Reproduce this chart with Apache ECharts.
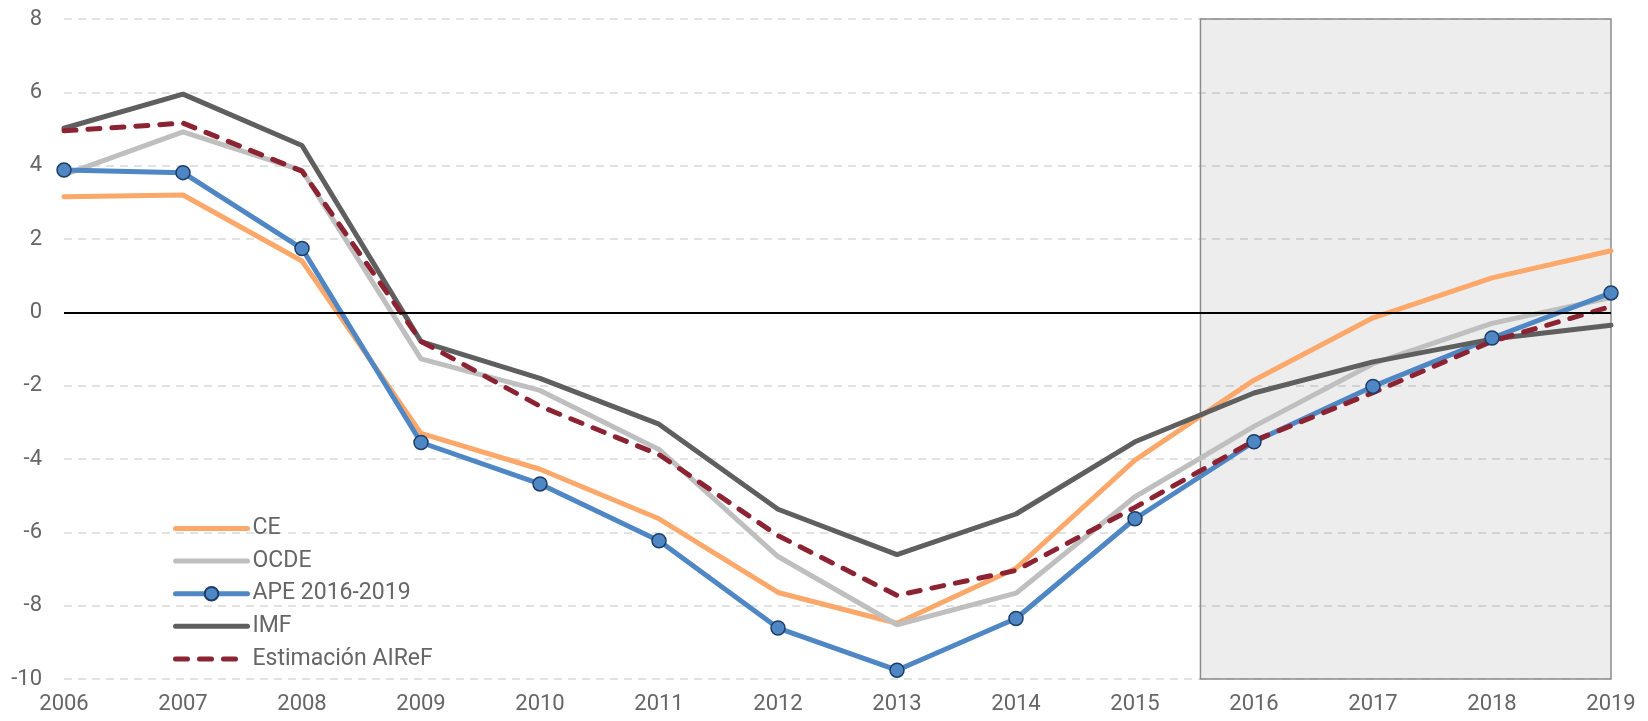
<!DOCTYPE html>
<html>
<head>
<meta charset="utf-8">
<script src="https://cdn.jsdelivr.net/npm/echarts@6/dist/echarts.min.js"></script>
<style>
  html, body { margin: 0; padding: 0; background: #fff; }
  #chart { width: 1648px; height: 721px; }
</style>
</head>
<body>
<div id="chart"></div>
<script>
// years on the x axis
var years = [2006, 2007, 2008, 2009, 2010, 2011, 2012, 2013, 2014, 2015, 2016, 2017, 2018, 2019];

// forecast values
var ce     = [3.15, 3.2, 1.4, -3.3, -4.28, -5.63, -7.64, -8.48, -6.98, -4.03, -1.85, -0.15, 0.94, 1.68];
var ocde   = [3.75, 4.92, 3.87, -1.27, -2.13, -3.74, -6.66, -8.52, -7.66, -5.03, -3.11, -1.4, -0.3, 0.4];
var ape    = [3.88, 3.81, 1.74, -3.55, -4.68, -6.23, -8.61, -9.76, -8.35, -5.63, -3.53, -2.02, -0.7, 0.53];
var imf    = [5.02, 5.95, 4.55, -0.8, -1.8, -3.05, -5.37, -6.61, -5.5, -3.53, -2.2, -1.35, -0.73, -0.35];
var airef  = [4.95, 5.16, 3.85, -0.79, -2.56, -3.88, -6.09, -7.72, -7.04, -5.32, -3.5, -2.19, -0.79, 0.16];

// shaded projection window
var shadeFrom = 2015.55, shadeTo = 2019.12;

var yTicks = { min: -10, max: 8, step: 2 };

function pairs(vals) {
  return years.map(function (y, i) { return [y, vals[i]]; });
}

var chart = echarts.init(document.getElementById('chart'));
var font = 'Roboto, "Liberation Sans", sans-serif';
var txtColor = '#666666';
var noDot = { color: 'rgba(0,0,0,0)', borderWidth: 0, opacity: 0 };

var option = {
  animation: false,
  backgroundColor: '#fff',
  grid: { left: 64, right: 37, top: 19, bottom: 42 },
  xAxis: {
    type: 'value',
    min: 2006, max: 2019, interval: 1,
    axisLine: { show: false },
    axisTick: { show: false },
    splitLine: { show: false },
    axisLabel: {
      color: txtColor, fontSize: 22, fontFamily: font, margin: 14,
      formatter: function (v) { return String(v); }
    }
  },
  yAxis: {
    type: 'value',
    min: yTicks.min, max: yTicks.max, interval: yTicks.step,
    axisLine: { show: false },
    axisTick: { show: false },
    axisLabel: { color: txtColor, fontSize: 22, fontFamily: font, margin: 22 },
    splitLine: { lineStyle: { color: '#d9d9d9', width: 1.5, type: [8, 6] } }
  },
  legend: {
    orient: 'vertical',
    left: 168, top: 512,
    itemWidth: 72, itemHeight: 17, itemGap: 9.6,
    lineStyle: { width: 5 },
    textStyle: { color: txtColor, fontSize: 23, fontFamily: font, lineHeight: 23 },
    data: [
      { name: 'CE', itemStyle: noDot },
      { name: 'OCDE', itemStyle: noDot },
      { name: 'APE 2016-2019' },
      { name: 'IMF', itemStyle: noDot },
      { name: 'Estimación AIReF', itemStyle: noDot }
    ]
  },
  series: [
    {
      name: 'bg', type: 'line', data: [], silent: true,
      markArea: {
        silent: true,
        itemStyle: {
          color: 'rgba(0,0,0,0.07)', borderColor: '#8c8c8c', borderWidth: 1.5
        },
        data: [[{ xAxis: shadeFrom, yAxis: yTicks.max }, { xAxis: shadeTo, yAxis: yTicks.min }]]
      },
      markLine: {
        silent: true, symbol: ['none', 'none'], label: { show: false },
        lineStyle: { color: '#000', width: 2, type: 'solid' },
        data: [{ yAxis: 0 }]
      }
    },
    {
      name: 'CE', type: 'line', data: pairs(ce), symbol: 'none',
      itemStyle: { color: '#FDA86B' },
      lineStyle: { color: '#FDA86B', width: 5, cap: 'round' }
    },
    {
      name: 'OCDE', type: 'line', data: pairs(ocde), symbol: 'none',
      itemStyle: { color: '#BFBFBF' },
      lineStyle: { color: '#BFBFBF', width: 5, cap: 'round' }
    },
    {
      name: 'APE 2016-2019', type: 'line', data: pairs(ape),
      symbol: 'circle', symbolSize: 14, showAllSymbol: true,
      itemStyle: { color: '#4F87C4', borderColor: '#1C3D66', borderWidth: 1.5 },
      lineStyle: { color: '#4F87C4', width: 5, cap: 'round' }
    },
    {
      name: 'IMF', type: 'line', data: pairs(imf), symbol: 'none',
      itemStyle: { color: '#5F5F5F' },
      lineStyle: { color: '#5F5F5F', width: 5, cap: 'round' }
    },
    {
      name: 'Estimación AIReF', type: 'line', data: pairs(airef), symbol: 'none',
      itemStyle: { color: '#8B2332' },
      lineStyle: { color: '#8B2332', width: 5, type: [12, 12], cap: 'round' }
    }
  ]
};

chart.setOption(option);
</script>
</body>
</html>
